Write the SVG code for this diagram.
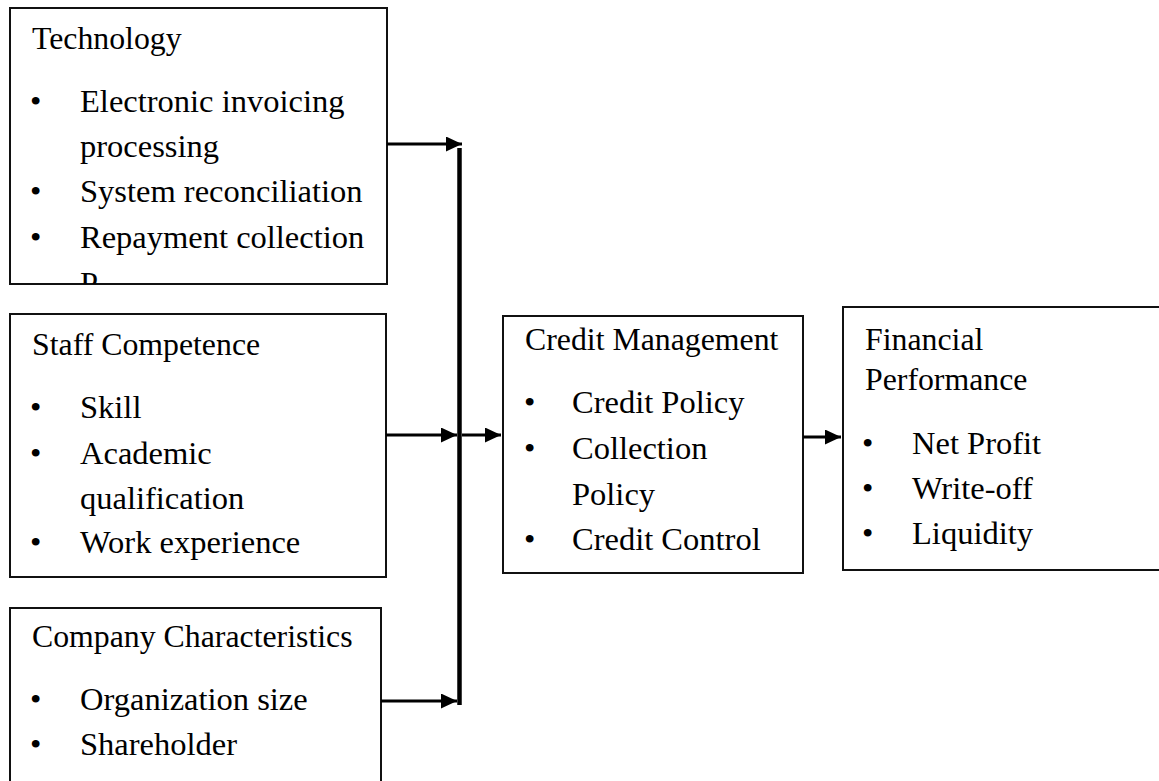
<svg xmlns="http://www.w3.org/2000/svg" width="1159" height="781" viewBox="0 0 1159 781">
<style>
.box{fill:#fff;stroke:#111;stroke-width:2}
.h{font-family:"Liberation Serif","Times New Roman",serif;font-size:31.8px;fill:#000}
.t{font-family:"Liberation Serif","Times New Roman",serif;font-size:32.5px;fill:#000}
.c{stroke:#000;stroke-width:3;fill:none}
.v{stroke:#000;stroke-width:4.5;fill:none}
</style>
<defs>
<marker id="ah" markerUnits="userSpaceOnUse" markerWidth="17" markerHeight="16" refX="16" refY="7.5" orient="auto">
<path d="M0,0 L16,7.5 L0,15 Z" fill="#000"/>
</marker>
<clipPath id="clipTech"><rect x="10" y="8" width="377" height="276"/></clipPath>
</defs>
<rect width="1159" height="781" fill="#fff"/>
<g id="technology">
<rect class="box" x="10" y="8" width="377" height="276"/>
<g clip-path="url(#clipTech)">
<text class="h" x="32" y="49">Technology</text>
<text class="t" x="30" y="112">•</text><text class="t" x="80" y="112">Electronic invoicing</text>
<text class="t" x="80" y="157">processing</text>
<text class="t" x="30" y="202">•</text><text class="t" x="80" y="202">System reconciliation</text>
<text class="t" x="30" y="248">•</text><text class="t" x="80" y="248">Repayment collection</text>
<text class="t" x="80" y="294">P</text>
</g>
</g>
<g id="staff">
<rect class="box" x="10" y="314" width="376" height="263"/>
<text class="h" x="32" y="355">Staff Competence</text>
<text class="t" x="30" y="418">•</text><text class="t" x="80" y="418">Skill</text>
<text class="t" x="30" y="464">•</text><text class="t" x="80" y="464">Academic</text>
<text class="t" x="80" y="509">qualification</text>
<text class="t" x="30" y="553">•</text><text class="t" x="80" y="553">Work experience</text>
</g>
<g id="company">
<rect class="box" x="10" y="608" width="371" height="190"/>
<text class="h" x="32" y="647">Company Characteristics</text>
<text class="t" x="30" y="710">•</text><text class="t" x="80" y="710">Organization size</text>
<text class="t" x="30" y="755">•</text><text class="t" x="80" y="755">Shareholder</text>
</g>
<g id="credit">
<rect class="box" x="503" y="316" width="300" height="257"/>
<text class="h" x="525" y="350">Credit Management</text>
<text class="t" x="524" y="413">•</text><text class="t" x="572" y="413">Credit Policy</text>
<text class="t" x="524" y="459">•</text><text class="t" x="572" y="459">Collection</text>
<text class="t" x="572" y="505">Policy</text>
<text class="t" x="524" y="550">•</text><text class="t" x="572" y="550">Credit Control</text>
</g>
<g id="financial">
<rect class="box" x="843" y="307" width="330" height="263"/>
<text class="h" x="865" y="350">Financial</text>
<text class="h" x="865" y="390">Performance</text>
<text class="t" x="862" y="454">•</text><text class="t" x="912" y="454">Net Profit</text>
<text class="t" x="862" y="499">•</text><text class="t" x="912" y="499">Write-off</text>
<text class="t" x="862" y="544">•</text><text class="t" x="912" y="544">Liquidity</text>
</g>
<g id="connectors">
<line class="v" x1="459.5" y1="148" x2="459.5" y2="705"/>
<line class="c" x1="387" y1="144" x2="462" y2="144" marker-end="url(#ah)"/>
<line class="c" x1="386" y1="435" x2="457" y2="435" marker-end="url(#ah)"/>
<line class="c" x1="462" y1="435" x2="501" y2="435" marker-end="url(#ah)"/>
<line class="c" x1="381" y1="701" x2="457" y2="701" marker-end="url(#ah)"/>
<line class="c" x1="803" y1="437" x2="841" y2="437" marker-end="url(#ah)"/>
</g>
</svg>
